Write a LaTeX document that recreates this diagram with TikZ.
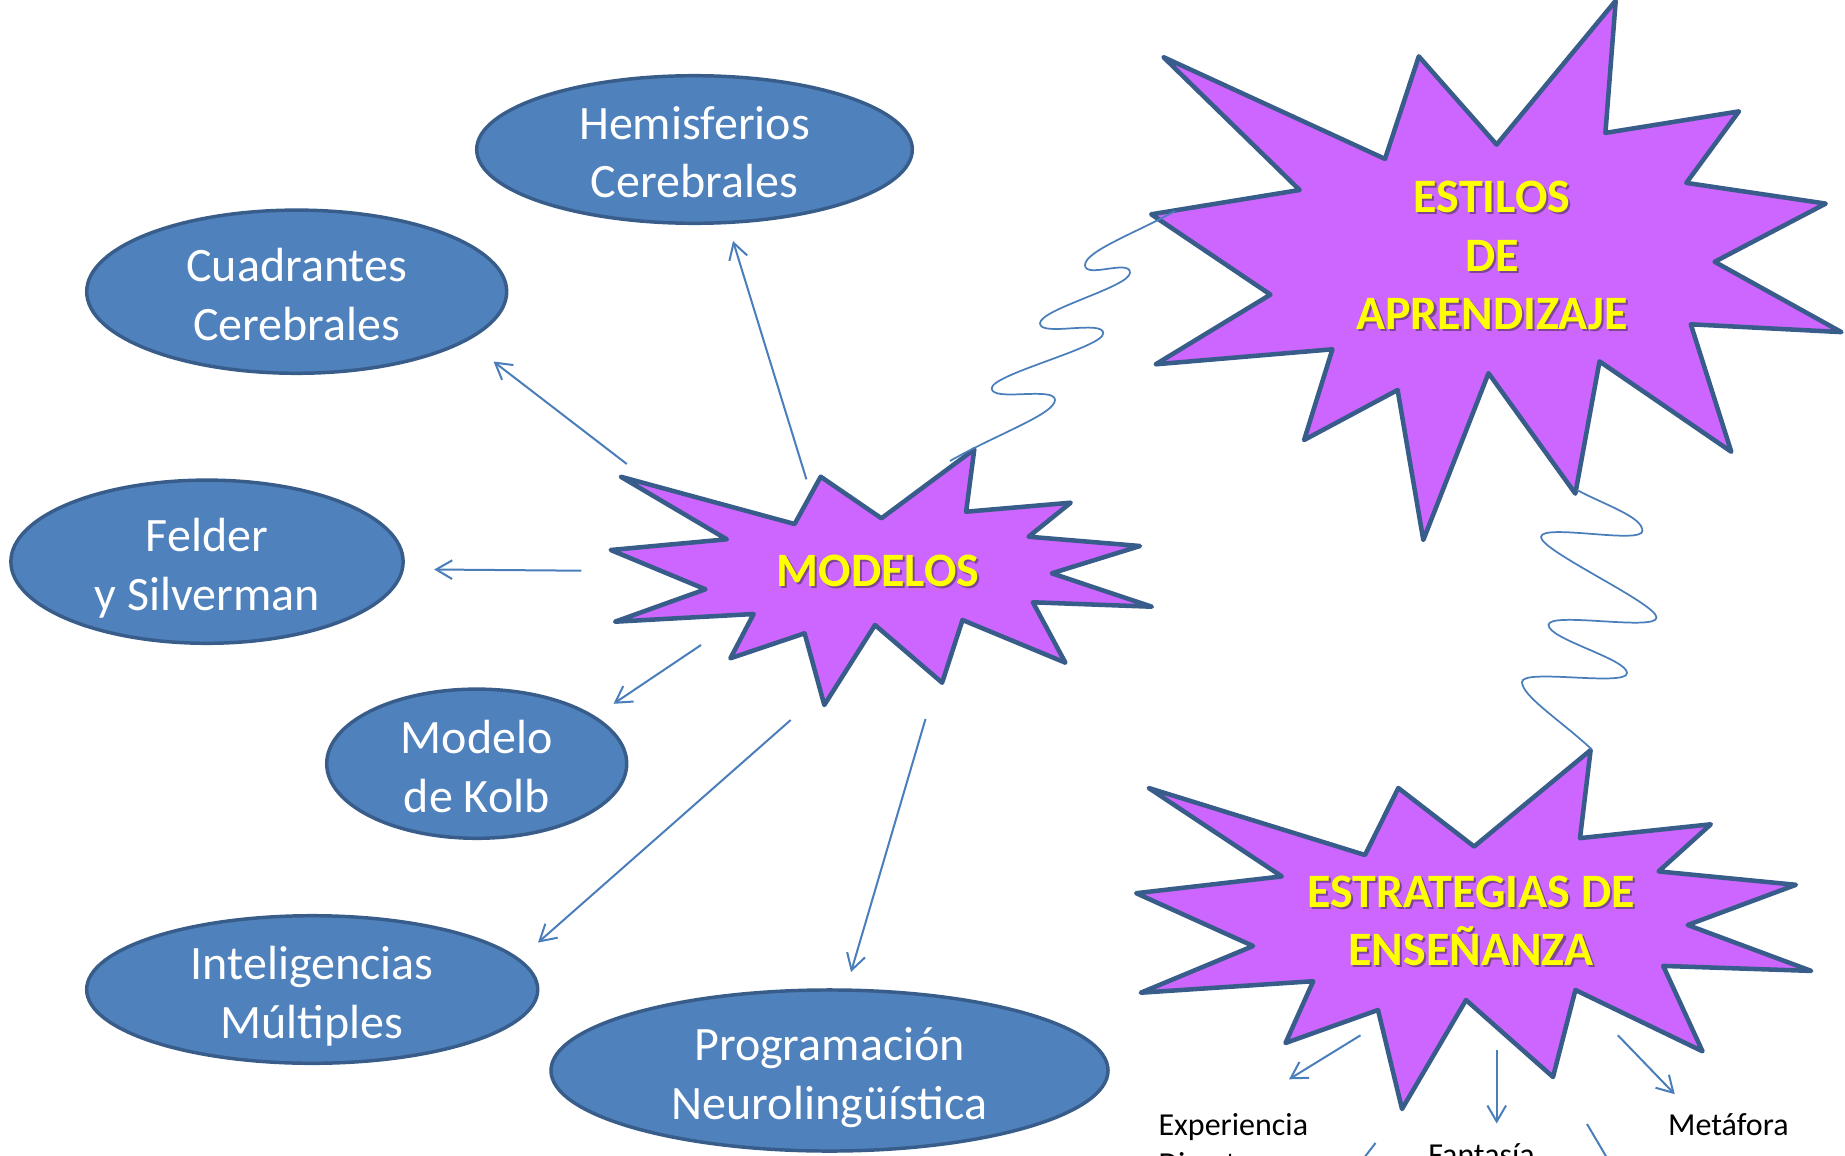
\documentclass[tikz,border=0pt]{standalone}
\usepackage{fontspec}
\setmainfont{Carlito}
\usetikzlibrary{shapes.geometric,arrows.meta}

\definecolor{ovalblue}{RGB}{79,129,189}
\definecolor{ovalline}{RGB}{56,93,138}
\definecolor{starfill}{RGB}{204,102,255}
\definecolor{linkblue}{RGB}{74,126,187}
\definecolor{titleyellow}{RGB}{255,255,0}
\definecolor{titleshade}{RGB}{125,70,150}

\newcommand\shd[1]{\leavevmode\rlap{\hspace{1.6pt}\raisebox{-1.6pt}{\color{titleshade}#1}}#1}
\newcommand\leafstrut{\rule{0pt}{22pt}}
\newcommand\ovalstrut{\rule{0pt}{29pt}}
\newcommand\nodepth[1]{\raisebox{0pt}[\height][0pt]{#1}}

\tikzset{every picture/.style={line width=0.75pt}}
\tikzset{
  oval/.style={ellipse, draw=ovalline, fill=ovalblue, line width=2.6pt, inner sep=0pt,
    text=white, align=center, font=\fontsize{36}{43.9}\selectfont},
  starshape/.style={draw=ovalline, fill=starfill, line width=3.4pt, line join=round},
  startext/.style={inner sep=0pt, text=titleyellow, align=center,
    font=\bfseries\fontsize{36}{43.9}\selectfont},
  link/.style={draw=linkblue, line width=1.5pt, -{Straight Barb[length=12pt,width=14pt]}},
  wave/.style={draw=linkblue, line width=1.3pt},
  leaf/.style={inner sep=0pt, anchor=north west, align=left, font=\fontsize{24}{29.3}\selectfont},
}

\begin{document}
\begin{tikzpicture}[x=0.75pt,y=0.75pt,yscale=-1,xscale=1]
\useasboundingbox (0,0) rectangle (1845,1156);

%Shape: Explosion [id:modelos]
\draw [starshape] (620.7,476.7) -- (794.6,524) -- (820.7,476.7) -- (881.4,518.3) -- (974.3,449.3) -- (966.1,511.7) -- (1070.7,502.7) -- (1028.6,536.7) -- (1140,546) -- (1051.8,573.3) -- (1151.8,606.7) -- (1032.9,602.3) -- (1065.4,662.7) -- (962.5,620) -- (942.1,682.7) -- (875,625) -- (824.3,705) -- (804.6,633.3) -- (730.4,658.3) -- (753.6,614) -- (615,621.7) -- (705.4,589.3) -- (610.7,550) -- (726.8,539.3) -- cycle ;
%Shape: Explosion [id:estilos]
\draw [starshape] (1163.4,57.1) -- (1385,158.9) -- (1418.8,56.4) -- (1496.6,144.6) -- (1615.7,0.7) -- (1605.4,132.9) -- (1738.9,111.4) -- (1686.3,182.9) -- (1825.7,203.6) -- (1714.6,261.8) -- (1841.4,332.1) -- (1690.8,324.3) -- (1731.3,451.8) -- (1599.5,361.4) -- (1575.3,493.6) -- (1488.5,373.2) -- (1423.3,540) -- (1397.6,390) -- (1304.1,440) -- (1332.4,349.3) -- (1155.7,364.3) -- (1270.4,294.6) -- (1151.2,214.3) -- (1299.6,190) -- cycle ;
%Shape: Explosion [id:estrategias]
\draw [starshape] (1148.7,788) -- (1365,855) -- (1398.3,788) -- (1474.1,846.5) -- (1590.6,750.1) -- (1580,838.1) -- (1710.8,824.3) -- (1658.6,871.4) -- (1795.9,884.8) -- (1687.7,925) -- (1811.2,970.9) -- (1663.2,965.9) -- (1702.5,1051.3) -- (1575.4,990) -- (1553,1077) -- (1466,1000) -- (1402,1109) -- (1378,1010) -- (1285.5,1043) -- (1313.2,981.2) -- (1140.8,992.7) -- (1253.1,946) -- (1136.2,893.2) -- (1281.8,876.4) -- cycle ;

% Oval Nodes
\node [oval, minimum width=326.7pt, minimum height=110.7pt] (hemis) at (694.5,149.5) {\ovalstrut Hemisferios\\Cerebrales};
\node [oval, minimum width=315pt, minimum height=122.4pt] (cuadr) at (296.7,291.7) {\ovalstrut Cuadrantes\\Cerebrales};
\node [oval, minimum width=294.2pt, minimum height=122.4pt] (felder) at (207,561.7) {\ovalstrut Felder\\\nodepth{y Silverman}};
\node [oval, minimum width=225pt, minimum height=111.9pt] (kolb) at (476.7,763.7) {\ovalstrut Modelo\\de Kolb};
\node [oval, minimum width=338.3pt, minimum height=110.7pt] (intel) at (312.2,989.5) {\ovalstrut Inteligencias\\\nodepth{Múltiples}};
\node [oval, minimum width=417.8pt, minimum height=120.8pt] (pnl) at (829.5,1070.5) {\ovalstrut Programación\\\nodepth{Neurolingüística}};

% Title Text Nodes
\node [startext] (modelos) at (878,572) {\shd{MODELOS}};
\node [startext] (estilos) at (1492,256.5) {\shd{ESTILOS}\\\shd{DE}\\\shd{APRENDIZAJE}};
\node [startext] (estrat) at (1471,922) {\shd{ESTRATEGIAS DE}\\\shd{ENSEÑANZA}};

% Leaf Text Nodes
\node [leaf] (exper) at (1158,1105.7) {\leafstrut Experiencia\\Directa};
\node [leaf] (fanta) at (1427.8,1135.3) {\leafstrut Fantasía};
\node [leaf] (metaf) at (1667.7,1105.7) {\leafstrut Metáfora};

% Arrow ends
\coordinate (m-hem) at (806.4,479.3);  \coordinate (t-hem) at (733,241);
\coordinate (m-cua) at (626.8,464);    \coordinate (t-cua) at (493.5,361.5);
\coordinate (m-fel) at (581.3,570.7);  \coordinate (t-fel) at (434.2,569.5);
\coordinate (m-kol) at (701,645);      \coordinate (t-kol) at (613.5,703.8);
\coordinate (m-int) at (790.7,720);    \coordinate (t-int) at (538,942.6);
\coordinate (m-pnl) at (925.5,719);    \coordinate (t-pnl) at (851,972);
\coordinate (e-exp) at (1360.5,1035.3); \coordinate (t-exp) at (1289,1079.3);
\coordinate (e-fan) at (1496.7,1049.8); \coordinate (t-fan) at (1496.7,1123.5);
\coordinate (e-met) at (1617.9,1035.3); \coordinate (t-met) at (1674.7,1094.2);
\coordinate (x-exp) at (1375.5,1143);  \coordinate (y-exp) at (1347,1180);
\coordinate (x-met) at (1587,1124);    \coordinate (y-met) at (1620,1180);

%Straight Lines
\draw [link] (m-hem) -- (t-hem) ;
\draw [link] (m-cua) -- (t-cua) ;
\draw [link] (m-fel) -- (t-fel) ;
\draw [link] (m-kol) -- (t-kol) ;
\draw [link] (m-int) -- (t-int) ;
\draw [link] (m-pnl) -- (t-pnl) ;
\draw [link] (e-exp) -- (t-exp) ;
\draw [link] (e-fan) -- (t-fan) ;
\draw [link] (e-met) -- (t-met) ;
\draw [link] (x-exp) -- (y-exp) ;
\draw [link] (x-met) -- (y-met) ;

% Curve Lines
\coordinate (w1s) at (950,461);   \coordinate (w1e) at (1175,211);
\coordinate (w2s) at (1577,490);  \coordinate (w2e) at (1591.7,749.3);
\draw [wave] (w1s) .. controls (995,435) and (1055,414) .. (1055,400)
  .. controls (1055,386) and (991.7,402.3) .. (991.7,388.3)
  .. controls (991.7,374.3) and (1103.3,347.3) .. (1103.3,333.3)
  .. controls (1103.3,319.3) and (1040,337.3) .. (1040,323.3)
  .. controls (1040,309.3) and (1130,286.7) .. (1130,272.7)
  .. controls (1130,258.7) and (1085,279) .. (1085,265)
  .. controls (1085,251) and (1140,231) .. (w1e) ;
\draw [wave] (w2s) .. controls (1605,505) and (1642.4,516.8) .. (1642.4,530.8)
  .. controls (1642.4,544.8) and (1541,523) .. (1541,537)
  .. controls (1541,551) and (1656.5,603.5) .. (1656.5,617.5)
  .. controls (1656.5,631.5) and (1548.5,611) .. (1548.5,625)
  .. controls (1548.5,639) and (1627,659) .. (1627,673)
  .. controls (1627,687) and (1522,668) .. (1522,682)
  .. controls (1522,696) and (1560,720) .. (w2e) ;

\end{tikzpicture}
\end{document}
